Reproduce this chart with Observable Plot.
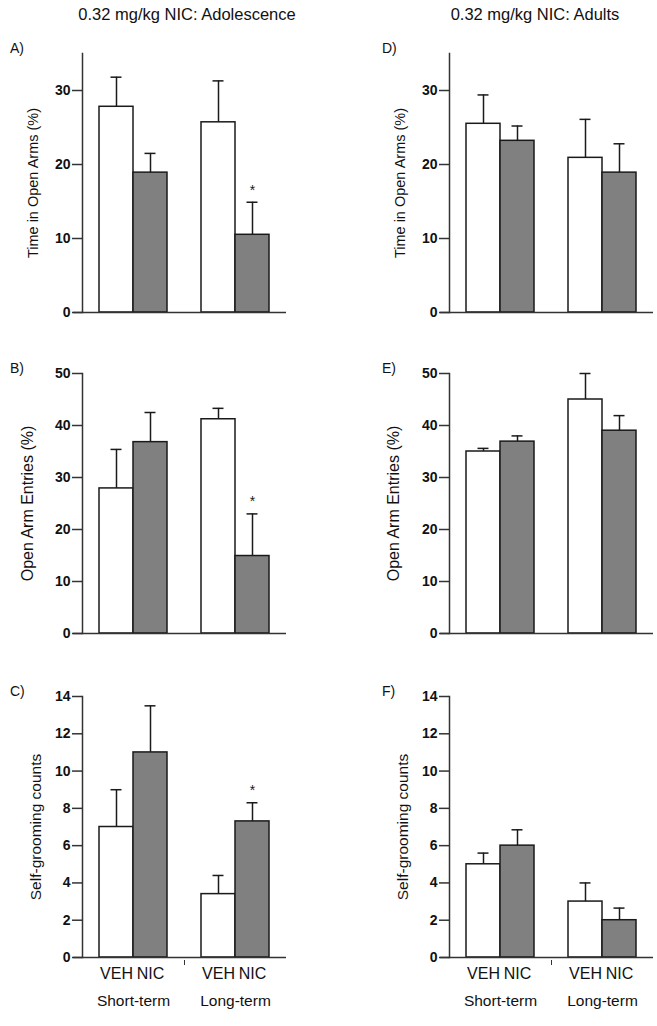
<!DOCTYPE html>
<html>
<head>
<meta charset="utf-8">
<script src="https://cdn.jsdelivr.net/npm/d3@7"></script>
<script src="https://cdn.jsdelivr.net/npm/@observablehq/plot@0.6"></script>
<style>
  html, body { margin: 0; padding: 0; background: #fff; }
  body { font-family: "Liberation Sans", Arial, Helvetica, sans-serif; color: #111; }
  #root { position: relative; width: 657px; height: 1026px; overflow: hidden; }
  .title { position: absolute; font-size: 16.5px; transform: translate(-50%, -50%); white-space: nowrap; }
  .letter { position: absolute; font-size: 14px; transform: translateY(-50%); }
  .panel { position: absolute; }
  .panel svg { overflow: visible; }
</style>
</head>
<body>
<div id="root"></div>
<script>
// ---------------- data ----------------
const groups = ["Short-term", "Long-term"];
const treatments = ["VEH", "NIC"];
const columnTitles = ["0.32 mg/kg NIC: Adolescence", "0.32 mg/kg NIC: Adults"];
const panelLetters = ["A)", "B)", "C)", "D)", "E)", "F)"];
const yLabels = ["Time in Open Arms (%)", "Open Arm Entries (%)", "Self-grooming counts"];
const yDomainMax = [35, 50, 14];
const yTicks = [[0, 10, 20, 30], [0, 10, 20, 30, 40, 50], [0, 2, 4, 6, 8, 10, 12, 14]];

// order: Short VEH, Short NIC, Long VEH, Long NIC
const timeOpenAdolMean = [27.8, 18.9, 25.7, 10.5];
const timeOpenAdolSem  = [4.0, 2.6, 5.6, 4.4];
const entriesAdolMean  = [27.9, 36.8, 41.2, 14.9];
const entriesAdolSem   = [7.5, 5.7, 2.1, 8.1];
const groomAdolMean    = [7.0, 11.0, 3.4, 7.3];
const groomAdolSem     = [2.0, 2.5, 1.0, 1.0];

const timeOpenAdultMean = [25.5, 23.2, 20.9, 18.9];
const timeOpenAdultSem  = [3.9, 2.0, 5.2, 3.9];
const entriesAdultMean  = [35.0, 36.9, 45.0, 39.0];
const entriesAdultSem   = [0.6, 1.1, 5.0, 2.9];
const groomAdultMean    = [5.0, 6.0, 3.0, 2.0];
const groomAdultSem     = [0.6, 0.85, 1.0, 0.65];

const adolSignificant = [false, false, false, true]; // * on Long-term NIC (A, B, C)
const adultSignificant = [false, false, false, false];

// ---------------- layout ----------------
const root = document.getElementById("root");
const colLeft = [0, 367];
const rowTop = [40, 360, 680];
const rowHeight = [280, 283, 346];
const rowMarginTop = [13, 13, 16];
const rowMarginBottom = [8, 10, 69];
const yLabelSize = [14.5, 16, 15.5];
const yLabelOffset = [[49, 55, 46], [49, 56, 46]];
const slots = ["Short-term|VEH", "Short-term|NIC", "gap", "Long-term|VEH", "Long-term|NIC"];
const ink = "#1a1a1a";
const axisInk = "#333";

function rowsFor(mean, sem, sig) {
  const out = [];
  let i = 0;
  for (const g of groups) for (const t of treatments) {
    out.push({group: g, treatment: t, slot: `${g}|${t}`, mean: mean[i], sem: sem[i], star: sig[i]});
    i++;
  }
  return out;
}

const panels = [
  {col: 0, row: 0, data: rowsFor(timeOpenAdolMean, timeOpenAdolSem, adolSignificant)},
  {col: 0, row: 1, data: rowsFor(entriesAdolMean, entriesAdolSem, adolSignificant)},
  {col: 0, row: 2, data: rowsFor(groomAdolMean, groomAdolSem, adolSignificant)},
  {col: 1, row: 0, data: rowsFor(timeOpenAdultMean, timeOpenAdultSem, adultSignificant)},
  {col: 1, row: 1, data: rowsFor(entriesAdultMean, entriesAdultSem, adultSignificant)},
  {col: 1, row: 2, data: rowsFor(groomAdultMean, groomAdultSem, adultSignificant)}
];

// titles
const titleX = [187, 535];
columnTitles.forEach((t, i) => {
  const d = document.createElement("div");
  d.className = "title";
  d.textContent = t;
  d.style.left = titleX[i] + "px";
  d.style.top = "14px";
  root.appendChild(d);
});

panels.forEach((p, k) => {
  const r = p.row;
  const isBottom = r === 2;
  const marks = [
    Plot.barY(p.data, {x: "slot", y: "mean", fill: "treatment", stroke: ink, strokeWidth: 1.5}),
    Plot.ruleX(p.data, {x: "slot", y1: "mean", y2: d => d.mean + d.sem, stroke: ink, strokeWidth: 1.5}),
    Plot.tickY(p.data, {x: "slot", y: d => d.mean + d.sem, stroke: ink, strokeWidth: 1.5, insetLeft: 11.5, insetRight: 11.5}),
    Plot.text(p.data.filter(d => d.star), {x: "slot", y: d => d.mean + d.sem, text: () => "*", dy: -12, fontSize: 14, fill: ink}),
    Plot.axisY({ticks: yTicks[r], tickSize: 10, tickPadding: 2, fontSize: 14, fontWeight: "bold", stroke: axisInk, strokeWidth: 1.5, fill: "#111", label: null}),
    Plot.frame({anchor: "left", stroke: axisInk, strokeWidth: 1.5}),
    Plot.ruleY([0], {stroke: axisInk, strokeWidth: 1.5, insetLeft: -9}),
    Plot.text([yLabels[r]], {frameAnchor: "left", textAnchor: "middle", rotate: -90, dx: -yLabelOffset[p.col][r], fontSize: yLabelSize[r], fill: "#111"})
  ];
  if (isBottom) {
    marks.push(
      Plot.axisX(slots.filter(s => s !== "gap"), {tickSize: 0, tickPadding: 10, fontSize: 16, fill: "#111", tickFormat: s => s.split("|")[1], label: null}),
      Plot.axisX(["gap"], {tickSize: 5, dy: 3, tickFormat: () => "", stroke: axisInk, label: null}),
      Plot.text(groups, {x: g => `${g}|VEH`, dx: 17, frameAnchor: "bottom", dy: 48, fontSize: 15.5, fill: "#111"})
    );
  }
  const chart = Plot.plot({
    width: 290,
    height: rowHeight[r],
    marginLeft: 82,
    marginRight: 4,
    marginTop: rowMarginTop[r],
    marginBottom: rowMarginBottom[r],
    style: {fontFamily: '"Liberation Sans", Arial, Helvetica, sans-serif', background: "transparent"},
    x: {type: "band", domain: slots, paddingInner: 0, paddingOuter: 0.5, axis: null},
    y: {domain: [0, yDomainMax[r]], axis: null},
    color: {domain: treatments, range: ["#ffffff", "#808080"]},
    marks
  });
  const wrap = document.createElement("div");
  wrap.className = "panel";
  wrap.style.left = colLeft[p.col] + "px";
  wrap.style.top = rowTop[r] + "px";
  wrap.appendChild(chart);
  root.appendChild(wrap);

  const letter = document.createElement("div");
  letter.className = "letter";
  letter.textContent = panelLetters[k];
  letter.style.left = (colLeft[p.col] + (p.col === 0 ? 10 : 15)) + "px";
  letter.style.top = (rowTop[r] + rowMarginTop[r] - 5) + "px";
  root.appendChild(letter);
});
</script>
</body>
</html>
